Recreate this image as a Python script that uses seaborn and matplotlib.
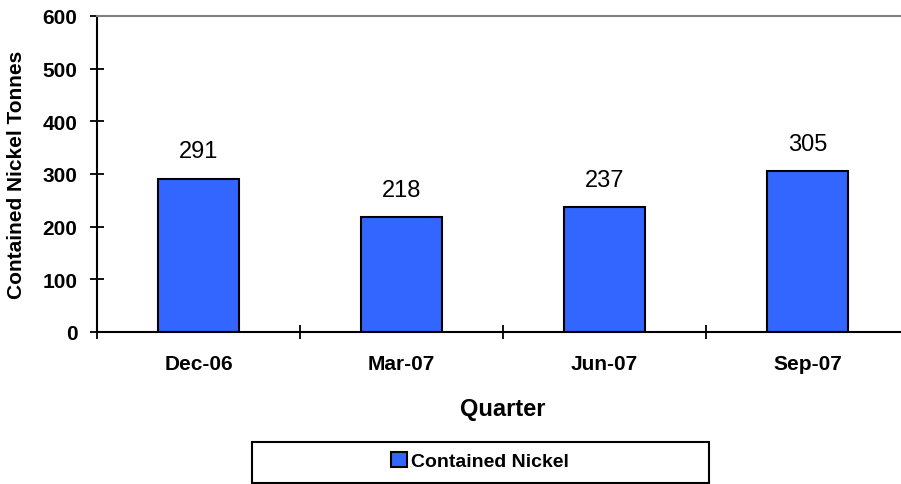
import matplotlib
matplotlib.use("Agg")
import matplotlib.pyplot as plt
import seaborn as sns
import pandas as pd
from matplotlib.patches import Rectangle
from matplotlib.ticker import FixedLocator, MultipleLocator

quarters = ["Dec-06", "Mar-07", "Jun-07", "Sep-07"]
tonnes = [291, 218, 237, 305]
series_name = "Contained Nickel"

sns.set_style("white")
plt.rcParams['font.family'] = ['Liberation Sans', 'DejaVu Sans']
plt.rcParams['text.color'] = 'black'
plt.rcParams['axes.labelcolor'] = 'black'
plt.rcParams['xtick.color'] = 'black'
plt.rcParams['ytick.color'] = 'black'

df = pd.DataFrame({"Quarter": quarters, "Tonnes": tonnes})

fig = plt.figure(figsize=(9.01, 4.85), dpi=100)
W, H = 901, 485
ax = fig.add_axes([97 / W, 1 - 333 / H, (909 - 97) / W, (333 - 17) / H])

sns.barplot(data=df, x="Quarter", y="Tonnes", color="#3366FF", saturation=1,
            width=0.4, edgecolor="black", linewidth=1.5, ax=ax, label=series_name)
handles, labels = ax.get_legend_handles_labels()
if ax.get_legend() is not None:
    ax.get_legend().remove()

ax.set_xlim(-0.5, len(quarters) - 0.5)
ax.set_ylim(0, 600)
ax.yaxis.set_major_locator(MultipleLocator(100))

for c in ax.containers:
    ax.bar_label(c, labels=[str(v) for v in tonnes], padding=12, fontsize=17,
                 color="black")

for s in ["left", "bottom"]:
    ax.spines[s].set_color("black")
    ax.spines[s].set_linewidth(1.5)
ax.spines["top"].set_color("#808080")
ax.spines["top"].set_linewidth(1.5)
ax.spines["right"].set_visible(False)

ax.tick_params(axis="y", which="major", direction="inout", length=10, width=1.3,
               color="black", labelcolor="black", labelsize=15, pad=9, left=True)
for t in ax.get_yticklabels():
    t.set_fontweight("bold")
ax.tick_params(axis="x", which="major", length=0, labelsize=15, pad=16,
               labelcolor="black")
for t in ax.get_xticklabels():
    t.set_fontweight("bold")
ax.xaxis.set_minor_locator(FixedLocator([i - 0.5 for i in range(len(quarters) + 1)]))
ax.tick_params(axis="x", which="minor", direction="inout", length=10, width=1.3,
               color="black", bottom=True)

ax.set_xlabel("Quarter", fontsize=17, fontweight="bold", labelpad=17, color="black")
ax.set_ylabel("Contained Nickel Tonnes", fontsize=15, fontweight="bold",
              labelpad=12, color="black")

# legend box
box = Rectangle((252 / W, 1 - 484 / H), (709 - 252) / W, (484 - 443) / H,
                transform=fig.transFigure, facecolor="white", edgecolor="black",
                linewidth=1.5, zorder=-1)
fig.patches.append(box)
leg = fig.legend(handles, labels, loc="center", bbox_to_anchor=(480 / W, 1 - 462 / H),
                 bbox_transform=fig.transFigure, frameon=False,
                 prop={"size": 14, "weight": "bold"}, handlelength=0.8,
                 handleheight=0.8, handletextpad=0.2)
leg.set_zorder(5)

fig.savefig("out.png", dpi=100)
